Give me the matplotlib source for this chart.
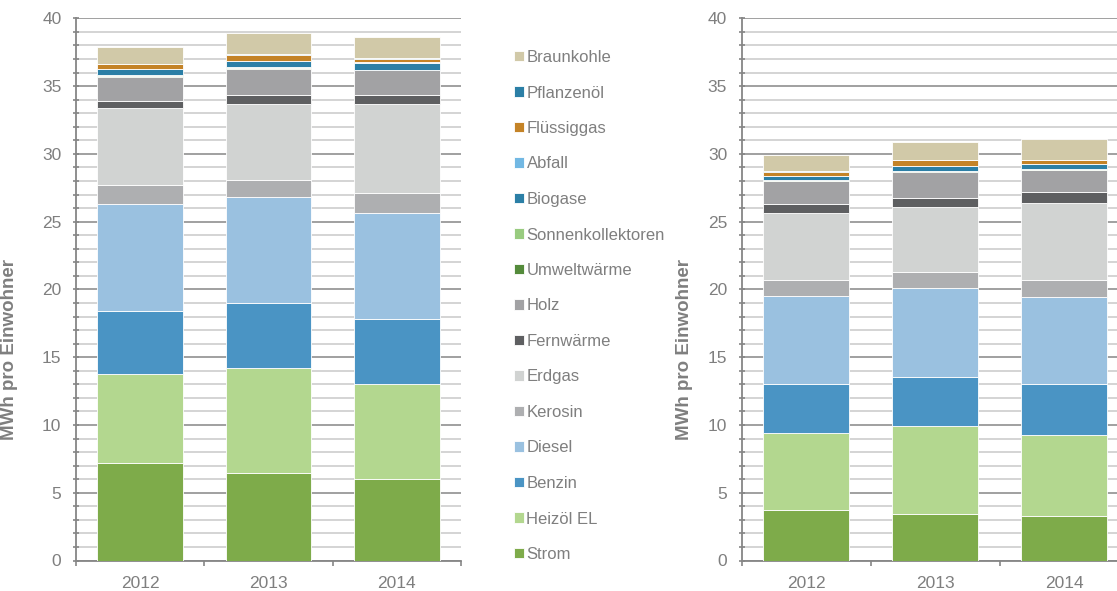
import numpy as np
import matplotlib
matplotlib.use("Agg")
import matplotlib.pyplot as plt
from matplotlib.ticker import MultipleLocator

plt.rcParams['font.family'] = ['Liberation Sans', 'DejaVu Sans']

years = ['2012', '2013', '2014']

# stacking order, bottom to top
carriers = ['Strom', 'Heizöl EL', 'Benzin', 'Diesel', 'Kerosin', 'Erdgas', 'Fernwärme',
            'Holz', 'Umweltwärme', 'Sonnenkollektoren', 'Biogase', 'Abfall',
            'Flüssiggas', 'Pflanzenöl', 'Braunkohle']

colors = ['#7eab4a', '#b3d78f', '#4a94c4', '#9ac1e0', '#aeafb1', '#d1d3d2', '#5e5f61',
          '#a2a2a4', '#548b3b', '#98cb7f', '#2b7fa6', '#72b8e3',
          '#c48327', '#2b7fa6', '#d1c9a8']

# MWh per inhabitant, one list per carrier: [2012, 2013, 2014]
left_strom = [7.22, 6.48, 6.04]
left_heizoel = [6.54, 7.73, 7.01]
left_benzin = [4.63, 4.77, 4.77]
left_diesel = [7.90, 7.85, 7.85]
left_kerosin = [1.42, 1.27, 1.45]
left_erdgas = [5.66, 5.57, 6.55]
left_fernwaerme = [0.54, 0.68, 0.68]
left_holz = [1.79, 1.92, 1.80]
left_umwelt = [0.03, 0.03, 0.02]
left_sonnen = [0.10, 0.12, 0.03]
left_biogase = [0.44, 0.42, 0.52]
left_abfall = [0.02, 0.02, 0.02]
left_fluessig = [0.32, 0.45, 0.29]
left_pflanzen = [0.02, 0.02, 0.02]
left_braun = [1.28, 1.58, 1.60]

right_strom = [3.70, 3.43, 3.28]
right_heizoel = [5.69, 6.52, 5.96]
right_benzin = [3.61, 3.62, 3.76]
right_diesel = [6.54, 6.56, 6.42]
right_kerosin = [1.16, 1.14, 1.28]
right_erdgas = [4.95, 4.80, 5.66]
right_fernwaerme = [0.68, 0.68, 0.84]
right_holz = [1.66, 1.94, 1.62]
right_umwelt = [0.02, 0.02, 0.02]
right_sonnen = [0.03, 0.03, 0.03]
right_biogase = [0.34, 0.37, 0.39]
right_abfall = [0.02, 0.02, 0.02]
right_fluessig = [0.29, 0.43, 0.28]
right_pflanzen = [0.02, 0.02, 0.02]
right_braun = [1.20, 1.30, 1.55]

left_data = [left_strom, left_heizoel, left_benzin, left_diesel, left_kerosin, left_erdgas,
             left_fernwaerme, left_holz, left_umwelt, left_sonnen, left_biogase, left_abfall,
             left_fluessig, left_pflanzen, left_braun]
right_data = [right_strom, right_heizoel, right_benzin, right_diesel, right_kerosin, right_erdgas,
              right_fernwaerme, right_holz, right_umwelt, right_sonnen, right_biogase, right_abfall,
              right_fluessig, right_pflanzen, right_braun]

TXT = '#7f7f7f'
AXC = '#868686'


def draw_stack(ax, data):
    x = np.arange(len(years))
    bottom = np.zeros(len(years))
    handles = []
    for name, vals, col in zip(carriers, data, colors):
        h = ax.bar(x, vals, 0.67, bottom=bottom, color=col, edgecolor='white',
                   linewidth=0.6, label=name, zorder=3)
        handles.append(h)
        bottom += np.array(vals)

    ax.set_xlim(-0.5, 2.5)
    ax.set_ylim(0, 40)
    ax.yaxis.set_major_locator(MultipleLocator(5))
    ax.yaxis.set_minor_locator(MultipleLocator(1))
    ax.grid(which='minor', axis='y', color='#d4d4d4', linewidth=1.4, zorder=0)
    ax.grid(which='major', axis='y', color='#989898', linewidth=1.3, zorder=1)
    ax.set_axisbelow(True)

    # category boundaries carry the ticks, the year labels sit in between
    ax.set_xticks([-0.5, 0.5, 1.5, 2.5])
    ax.set_xticklabels([])
    ax.set_xticks(x, minor=True)
    ax.set_xticklabels(years, minor=True)
    ax.tick_params(axis='x', which='major', direction='out', length=3.5, width=1.2, color=AXC)
    ax.tick_params(axis='x', which='minor', length=0, pad=11, labelsize=12.5, labelcolor=TXT)
    ax.tick_params(axis='y', which='both', direction='inout', length=5, width=1.2,
                   color=AXC, labelsize=12.5, labelcolor=TXT, pad=8)

    for s in ['top', 'right']:
        ax.spines[s].set_visible(False)
    for s in ['left', 'bottom']:
        ax.spines[s].set_color(AXC)
        ax.spines[s].set_linewidth(1.3)

    ax.set_ylabel('MWh pro Einwohner', fontsize=13.5, fontweight='bold', color=TXT)
    return handles


fig = plt.figure(figsize=(11.17, 5.91), dpi=100)
ax1 = fig.add_axes([76 / 1117, 30.5 / 591, 385 / 1117, 542.2 / 591])
ax2 = fig.add_axes([741.7 / 1117, 30.5 / 591, 387 / 1117, 542.2 / 591])

handles = draw_stack(ax1, left_data)
draw_stack(ax2, right_data)
ax1.yaxis.set_label_coords(-0.151, 0.39)
ax2.yaxis.set_label_coords(-0.126, 0.39)

leg = fig.legend(handles[::-1], carriers[::-1], loc='upper left',
                 bbox_to_anchor=(514 / 1117, 1 - 50 / 591), frameon=False,
                 fontsize=12, labelcolor=TXT, handlelength=0.6, handleheight=0.6,
                 handletextpad=0.15, labelspacing=1.23, borderpad=0, borderaxespad=0)

fig.savefig('out.png', dpi=100)
